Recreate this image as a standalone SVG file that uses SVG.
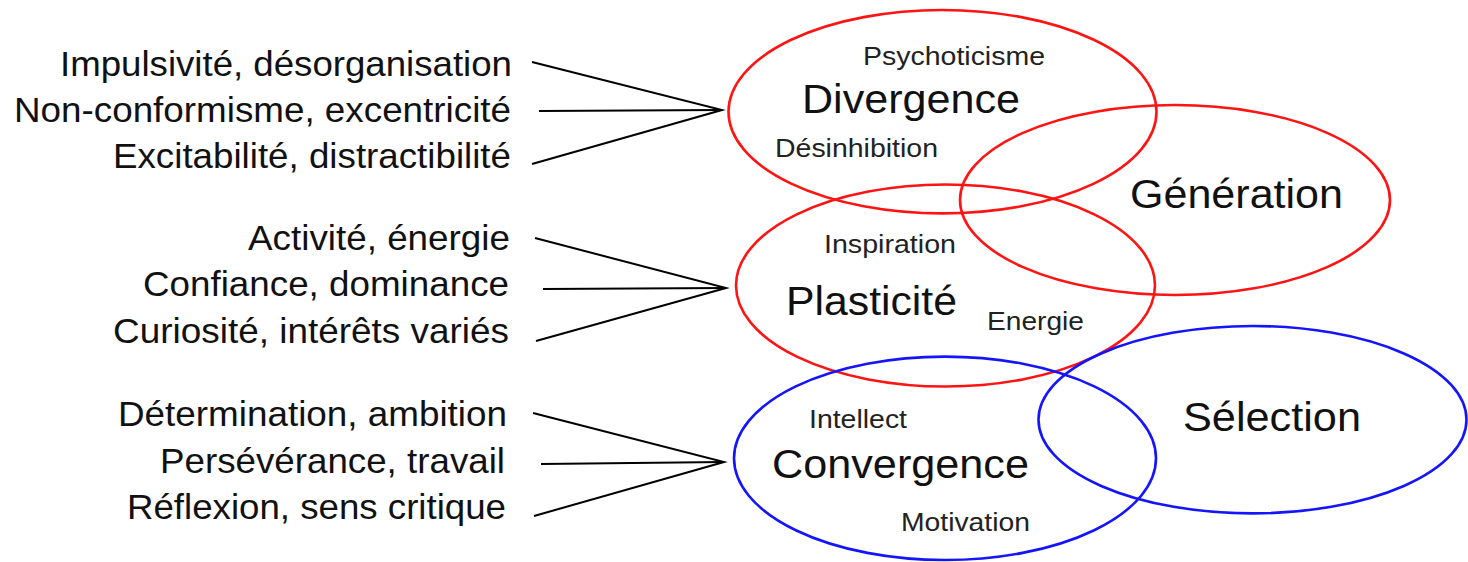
<svg xmlns="http://www.w3.org/2000/svg" width="1468" height="562" viewBox="0 0 1468 562">
  <style>
    .trait { font-family: "Liberation Sans", Arial, sans-serif; font-size: 35px; fill: #111; }
    .big { font-family: "Liberation Sans", Arial, sans-serif; font-size: 40px; fill: #111; }
    .small { font-family: "Liberation Sans", Arial, sans-serif; font-size: 26px; fill: #222; }
    .red { fill: none; stroke: #ff1414; stroke-width: 2.6; }
    .blue { fill: none; stroke: #1414ff; stroke-width: 2.6; }
    .link { stroke: #000; stroke-width: 2; fill: none; }
  </style>
  <rect width="1468" height="562" fill="#fff"/>

  <!-- trait lists -->
  <g id="traits-divergence">
    <text class="trait" x="60" y="76" textLength="452" lengthAdjust="spacingAndGlyphs">Impulsivité, désorganisation</text>
    <text class="trait" x="14" y="122" textLength="497" lengthAdjust="spacingAndGlyphs">Non-conformisme, excentricité</text>
    <text class="trait" x="113" y="168" textLength="398" lengthAdjust="spacingAndGlyphs">Excitabilité, distractibilité</text>
  </g>
  <g id="traits-plasticite">
    <text class="trait" x="248" y="250" textLength="262" lengthAdjust="spacingAndGlyphs">Activité, énergie</text>
    <text class="trait" x="143" y="296" textLength="366" lengthAdjust="spacingAndGlyphs">Confiance, dominance</text>
    <text class="trait" x="113" y="343" textLength="396" lengthAdjust="spacingAndGlyphs">Curiosité, intérêts variés</text>
  </g>
  <g id="traits-convergence">
    <text class="trait" x="118" y="426" textLength="389" lengthAdjust="spacingAndGlyphs">Détermination, ambition</text>
    <text class="trait" x="160" y="473" textLength="345" lengthAdjust="spacingAndGlyphs">Persévérance, travail</text>
    <text class="trait" x="127" y="519" textLength="379" lengthAdjust="spacingAndGlyphs">Réflexion, sens critique</text>
  </g>

  <!-- connectors -->
  <g id="connectors">
    <polyline class="link" points="532,62 722,110 532,164"/>
    <line class="link" x1="539" y1="111" x2="722" y2="110"/>
    <polyline class="link" points="535,238 726,288 536,341"/>
    <line class="link" x1="543" y1="289" x2="726" y2="288"/>
    <polyline class="link" points="533,413 724,462 534,516"/>
    <line class="link" x1="541" y1="464" x2="724" y2="462"/>
  </g>

  <!-- ellipses -->
  <g id="divergence">
    <ellipse class="red" cx="942.5" cy="111.7" rx="214" ry="101.7"/>
    <text class="small" x="863" y="65" textLength="182" lengthAdjust="spacingAndGlyphs">Psychoticisme</text>
    <text class="big" x="802" y="113" textLength="218" lengthAdjust="spacingAndGlyphs">Divergence</text>
    <text class="small" x="775" y="157" textLength="163" lengthAdjust="spacingAndGlyphs">Désinhibition</text>
  </g>
  <g id="generation">
    <ellipse class="red" cx="1175" cy="200" rx="215" ry="95"/>
    <text class="big" x="1130" y="208" textLength="213" lengthAdjust="spacingAndGlyphs">Génération</text>
  </g>
  <g id="plasticite">
    <ellipse class="red" cx="945.5" cy="285.5" rx="209.5" ry="101"/>
    <text class="small" x="824" y="253" textLength="132" lengthAdjust="spacingAndGlyphs">Inspiration</text>
    <text class="big" x="786" y="315" textLength="171" lengthAdjust="spacingAndGlyphs">Plasticité</text>
    <text class="small" x="987" y="330" textLength="97" lengthAdjust="spacingAndGlyphs">Energie</text>
  </g>
  <g id="convergence">
    <ellipse class="blue" cx="945" cy="458.3" rx="211" ry="101.7"/>
    <text class="small" x="809" y="428" textLength="98" lengthAdjust="spacingAndGlyphs">Intellect</text>
    <text class="big" x="772" y="478" textLength="257" lengthAdjust="spacingAndGlyphs">Convergence</text>
    <text class="small" x="901" y="531" textLength="129" lengthAdjust="spacingAndGlyphs">Motivation</text>
  </g>
  <g id="selection">
    <ellipse class="blue" cx="1252.5" cy="419.7" rx="214" ry="93.7"/>
    <text class="big" x="1183" y="431" textLength="178" lengthAdjust="spacingAndGlyphs">Sélection</text>
  </g>
</svg>
